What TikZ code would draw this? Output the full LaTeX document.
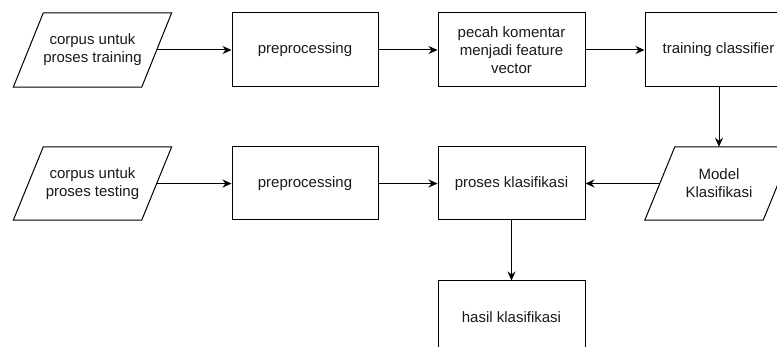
\documentclass[tikz,border=0pt]{standalone}
\usepackage{fontspec}
\setmainfont{Liberation Sans}
\usetikzlibrary{arrows.meta,calc}
\definecolor{txtcol}{HTML}{1A1A1A}
\begin{document}
\begin{tikzpicture}[x=1pt,y=-1pt,
  txt/.style={font=\fontsize{15}{18}\selectfont, align=center, inner sep=0pt, text=txtcol},
  procbox/.style={txt, draw, line width=1pt, minimum width=147pt, minimum height=74pt},
  iobox/.style={txt, draw=none, minimum height=74pt},
  conn/.style={line width=1pt, -{Stealth[length=9pt,width=8pt,inset=3pt]}},
  paraline/.style={line width=1pt, line join=miter}
]
\useasboundingbox (0,0) rectangle (777,347);
\clip (0,0) rectangle (777,347);
\fill[white] (0,0) rectangle (777,347);

% row 1
\node[iobox, minimum width=128pt] (in1) at (92.5,50) {corpus untuk\\proses training};
\node[procbox, minimum width=146pt] (pre1) at (305,50) {preprocessing};
\node[procbox] (pecah) at (511.5,50) {pecah komentar\\menjadi feature\\vector};
\node[procbox] (train) at (718.5,50) {training classifier};

% row 2
\node[iobox, minimum width=128pt, minimum height=73pt] (in2) at (92.5,183.5) {corpus untuk\\proses testing};
\node[procbox, minimum width=146pt, minimum height=73pt] (pre2) at (305,183.5) {preprocessing};
\node[procbox, minimum height=73pt] (klas) at (511.5,183.5) {proses klasifikasi};
\node[iobox, minimum width=118pt, minimum height=73pt] (model) at (719,183.5) {Model\\Klasifikasi};

% row 3
\node[procbox, minimum height=73pt] (hasil) at (511.5,317.5) {hasil klasifikasi};

% parallelograms
\foreach \n in {in1,in2,model}{
  \draw[paraline] ($(\n.north west)+(15,0)$) -- ($(\n.north east)+(15,0)$)
     -- ($(\n.south east)+(-15,0)$) -- ($(\n.south west)+(-15,0)$) -- cycle;
}

% connectors
\draw[conn] (in1.east) -- (pre1.west);
\draw[conn] (pre1.east) -- (pecah.west);
\draw[conn] (pecah.east) -- (train.west);
\draw[conn] (train.south -| model.north) -- (model.north);
\draw[conn] (in2.east) -- (pre2.west);
\draw[conn] (pre2.east) -- (klas.west);
\draw[conn] (model.west) -- (klas.east);
\draw[conn] (klas.south) -- (hasil.north);
\end{tikzpicture}
\end{document}
